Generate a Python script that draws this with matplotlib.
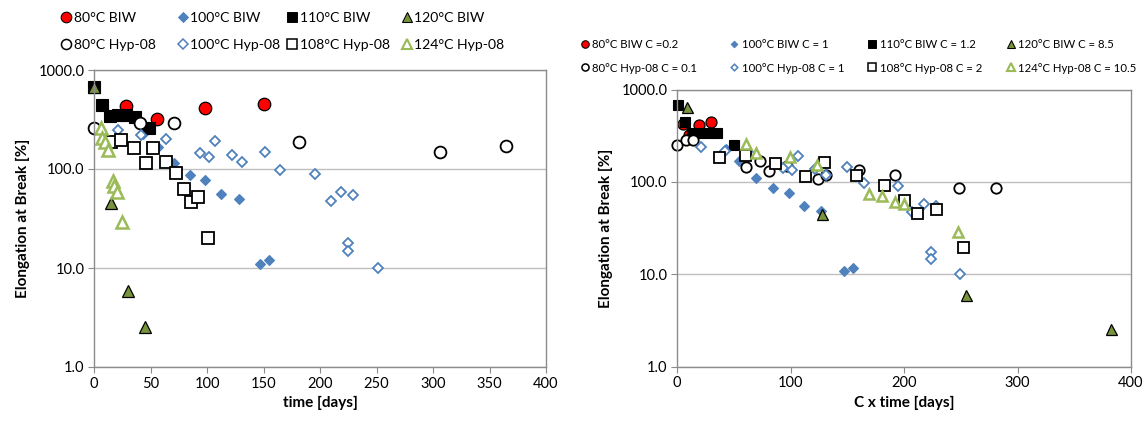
import matplotlib
matplotlib.use("Agg")
import matplotlib.pyplot as plt
from matplotlib.lines import Line2D
from matplotlib.ticker import FixedLocator, NullLocator, FuncFormatter

plt.rcParams["font.family"] = ["Lato", "DejaVu Sans"]

# ---- left panel: time [days] ----
t_80biw = [28, 56, 98, 150]
e_80biw = [436, 320, 410, 450]
t_100biw = [43, 57, 71, 85, 98, 112, 128, 147, 155]
e_100biw = [228, 168, 114, 87, 77, 56, 50, 11.1, 12]
t_110biw = [0, 7, 14, 21, 28, 36, 49]
e_110biw = [680, 443, 340, 350, 350, 336, 258]
t_120biw = [0, 15, 30, 45]
e_120biw = [680, 45, 5.8, 2.55]
t_80hyp = [0, 41, 71, 181, 306, 365]
e_80hyp = [258, 289, 289, 189, 150, 171]
t_100hyp = [21, 42, 64, 94, 102, 107, 122, 131, 151, 165, 196, 210, 219, 229, 225, 225, 251]
e_100hyp = [248, 218, 201, 144, 133, 192, 138, 119, 147, 98, 90, 47, 59, 55, 17.8, 14.9, 10.1]
t_108hyp = [15, 24, 35, 46, 52, 64, 73, 80, 86, 92, 101]
e_108hyp = [189, 196, 162, 116, 164, 119, 92, 63, 46, 52, 20]
t_124hyp = [6, 7, 10, 12, 17, 18, 20, 25]
e_124hyp = [258, 204, 189, 156, 75, 67, 58, 29]

# ---- right panel: C x time [days] ----
ct_80biw = [5.4, 11, 19.7, 30]
ce_80biw = [428, 320, 408, 443]
ct_100biw = [43.6, 54.7, 70, 84.3, 98.3, 112, 127, 147, 155]
ce_100biw = [228, 168, 110, 86, 75, 54.5, 48, 10.8, 11.7]
ct_110biw = [0.6, 7, 13.4, 19.7, 27.7, 35, 49.9]
ce_110biw = [671, 443, 334, 334, 334, 334, 252]
ct_120biw = [9, 128, 255, 382]
ce_120biw = [649, 45, 5.9, 2.56]
ct_80hyp = [0, 8, 14.3, 61, 73, 81, 97, 124.6, 131, 160.6, 191.7, 248.6, 281.4]
ce_80hyp = [253, 281, 281, 145, 170, 131, 147, 106, 120, 136, 118, 86, 86]
ct_100hyp = [21, 42, 64, 93, 101, 107, 122, 131, 150, 165, 195, 207, 218, 228, 224, 224, 249]
ce_100hyp = [239, 218, 201, 142, 133, 190, 138, 120, 145, 96, 90, 47, 58, 55, 17.5, 14.7, 10]
ct_108hyp = [36.6, 60, 86.5, 112.6, 129.4, 157.4, 182.5, 199.7, 211.4, 228, 251.8]
ce_108hyp = [185, 195, 161, 115, 163, 118, 92, 63, 45.4, 51, 19.8]
ct_124hyp = [61, 70, 99.8, 123, 169, 181, 192, 200, 248]
ce_124hyp = [260, 206, 187, 151, 74, 70, 60, 58, 28.7]

labels_left = ["80°C BIW", "100°C BIW", "110°C BIW", "120°C BIW",
               "80°C Hyp-08", "100°C Hyp-08", "108°C Hyp-08", "124°C Hyp-08"]
labels_right = ["80°C BIW C =0.2", "100°C BIW C = 1", "110°C BIW C = 1.2", "120°C BIW C = 8.5",
                "80°C Hyp-08 C = 0.1", "100°C Hyp-08 C = 1", "108°C Hyp-08 C = 2", "124°C Hyp-08 C = 10.5"]
y_ticks = [1, 10, 100, 1000]

BLUE = "#4F81BD"
OLIVE = "#77933C"
LGREEN = "#9BBB59"

# marker, size, face, edge, edge width
styles = [
    ("o", 9.0, "#FF0000", "black", 0.9),
    ("D", 5.6, BLUE, BLUE, 0.8),
    ("s", 8.5, "black", "black", 0.8),
    ("^", 9.0, OLIVE, "black", 0.9),
    ("o", 8.5, "white", "black", 1.3),
    ("D", 5.6, "white", BLUE, 1.3),
    ("s", 9.0, "white", "black", 1.3),
    ("^", 8.5, "white", LGREEN, 1.8),
]

left_data = [(t_80biw, e_80biw), (t_100biw, e_100biw), (t_110biw, e_110biw), (t_120biw, e_120biw),
             (t_80hyp, e_80hyp), (t_100hyp, e_100hyp), (t_108hyp, e_108hyp), (t_124hyp, e_124hyp)]
right_data = [(ct_80biw, ce_80biw), (ct_100biw, ce_100biw), (ct_110biw, ce_110biw), (ct_120biw, ce_120biw),
              (ct_80hyp, ce_80hyp), (ct_100hyp, ce_100hyp), (ct_108hyp, ce_108hyp), (ct_124hyp, ce_124hyp)]

W, H = 1146, 424
fig = plt.figure(figsize=(W / 100, H / 100), dpi=100)
ax1 = fig.add_axes([94 / W, 1 - 367 / H, 452 / W, 297 / H])
ax2 = fig.add_axes([677 / W, 1 - 366.5 / H, 454 / W, 277 / H])


def style_axes(ax, xstep, xlabel):
    ax.set_yscale("log")
    ax.set_ylim(1, 1000)
    ax.set_xlim(0, 400)
    ax.yaxis.set_major_locator(FixedLocator(y_ticks))
    ax.yaxis.set_minor_locator(NullLocator())
    ax.yaxis.set_major_formatter(FuncFormatter(lambda v, p: f"{v:.1f}"))
    ax.set_xticks(range(0, 401, xstep))
    ax.grid(axis="y", color="#BFBFBF", linewidth=1.0)
    ax.set_axisbelow(True)
    for s in ax.spines.values():
        s.set_color("#8C8C8C")
        s.set_linewidth(1.0)
    ax.tick_params(direction="out", length=4, color="#8C8C8C", labelsize=10.5, pad=3)
    ax.set_xlabel(xlabel, fontsize=11, fontweight="bold", labelpad=4)
    ax.set_ylabel("Elongation at Break [%]", fontsize=11, fontweight="bold", labelpad=6)


for (x, y), (m, ms, fc, ec, ew) in zip(left_data, styles):
    ax1.plot(x, y, ls="none", marker=m, ms=ms, mfc=fc, mec=ec, mew=ew, clip_on=False)
for (x, y), (m, ms, fc, ec, ew) in zip(right_data, styles):
    ax2.plot(x, y, ls="none", marker=m, ms=ms * 0.88, mfc=fc, mec=ec, mew=ew, clip_on=False)

style_axes(ax1, 50, "time [days]")
style_axes(ax2, 100, "C x time [days]")


# legends laid out like the Excel ones: fixed columns, two rows
def put_legend(labels, cols, rows, fontsize, mscale, gap):
    for i, (lab, (m, ms, fc, ec, ew)) in enumerate(zip(labels, styles)):
        x = cols[i % 4]
        y = rows[i // 4]
        fig.add_artist(Line2D([x / W], [1 - y / H], transform=fig.transFigure, ls="none",
                              marker=m, ms=ms * mscale, mfc=fc, mec=ec, mew=ew * 0.85))
        fig.text((x + gap) / W, 1 - y / H, lab, fontsize=fontsize, va="center_baseline", ha="left")


put_legend(labels_left, [66, 183, 292, 407], [17, 44], 10.1, 0.85, 7.5)
put_legend(labels_right, [585, 734, 872, 1011], [44, 67], 8.2, 0.6, 7.5)

fig.savefig("out.png", dpi=100)
